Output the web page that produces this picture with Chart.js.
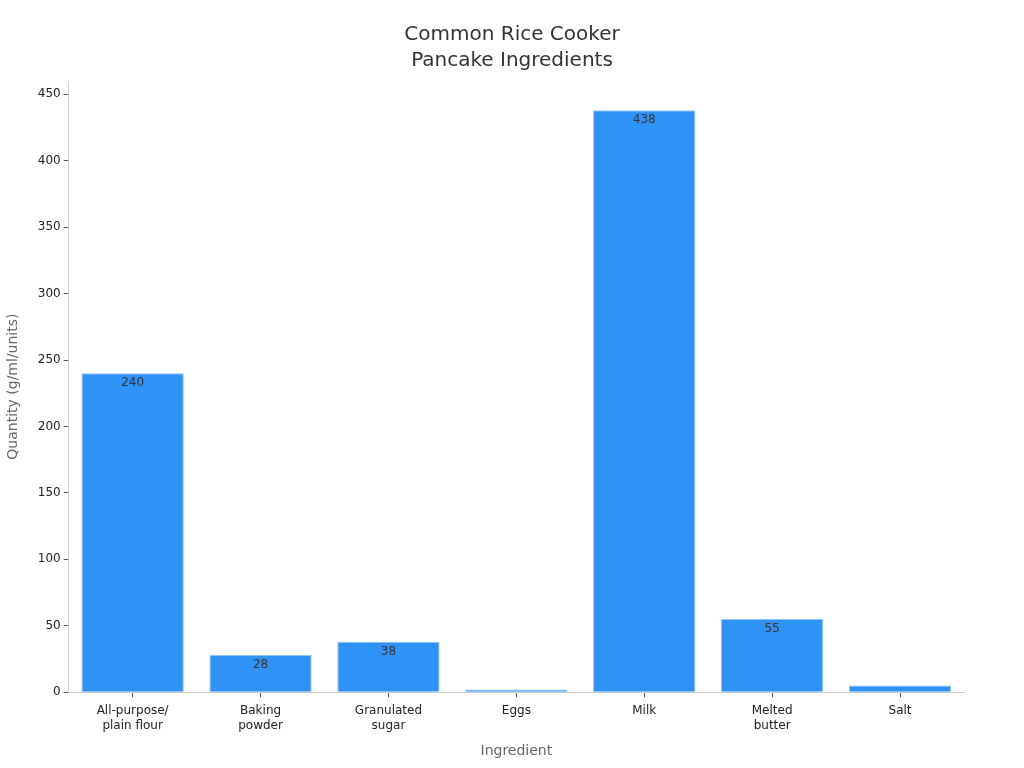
<!DOCTYPE html>
<html>
<head>
<meta charset="utf-8">
<script src="https://cdn.jsdelivr.net/npm/chart.js@4"></script>
<style>
  html, body { margin: 0; padding: 0; background: #fff; overflow: hidden; }
</style>
</head>
<body>
<canvas id="chart" width="1024" height="768"></canvas>
<script>
const ingredients = [["All-purpose/", "plain flour"], ["Baking", "powder"], ["Granulated", "sugar"], "Eggs", "Milk", ["Melted", "butter"], "Salt"];
const quantities = [240, 28, 38, 2, 438, 55, 5];
const yTicks = [0, 50, 100, 150, 200, 250, 300, 350, 400, 450];

// value labels just inside the top of each bar
const barLabels = {
  id: "barLabels",
  afterDatasetsDraw(chart) {
    const ctx = chart.ctx;
    const meta = chart.getDatasetMeta(0);
    ctx.save();
    ctx.font = "12px 'DejaVu Sans'";
    ctx.fillStyle = "#333";
    ctx.textAlign = "center";
    ctx.textBaseline = "middle";
    meta.data.forEach((bar, i) => {
      if (quantities[i] < 10) return;
      ctx.fillText(quantities[i], bar.x, bar.y + 10);
    });
    ctx.restore();
  }
};

new Chart(document.getElementById("chart"), {
  type: "bar",
  data: {
    labels: ingredients,
    datasets: [{
      data: quantities,
      backgroundColor: "#2f92f7",
      borderColor: "#8cc4fa",
      borderWidth: 1,
      categoryPercentage: 1,
      barPercentage: 0.8
    }]
  },
  plugins: [barLabels],
  options: {
    responsive: false,
    animation: false,
    devicePixelRatio: 1,
    layout: { padding: { left: 1, right: 1, top: 10, bottom: 4 } },
    plugins: {
      legend: { display: false },
      tooltip: { enabled: false },
      title: {
        display: true,
        text: ["Common Rice Cooker", "Pancake Ingredients"],
        color: "#333",
        font: { family: "DejaVu Sans", size: 20, weight: "normal", lineHeight: 1.3 },
        padding: { top: 12, bottom: 7 }
      }
    },
    scales: {
      x: {
        grid: { display: true, offset: false, drawOnChartArea: false, drawTicks: true, tickLength: 5, color: "#555" },
        border: { color: "#ccc" },
        ticks: { color: "#222", font: { family: "DejaVu Sans", size: 12, lineHeight: 1.25 }, maxRotation: 0, padding: 6 },
        title: {
          display: true,
          text: "Ingredient",
          color: "#666",
          font: { family: "DejaVu Sans", size: 14 },
          padding: { top: 4, bottom: 4 }
        }
      },
      y: {
        min: 0,
        max: 460,
        afterBuildTicks: axis => { axis.ticks = yTicks.map(v => ({ value: v })); },
        grid: { display: true, drawOnChartArea: false, drawTicks: true, tickLength: 5, color: "#555" },
        border: { color: "#ccc" },
        ticks: { color: "#222", font: { family: "DejaVu Sans", size: 12 }, padding: 3 },
        title: {
          display: true,
          text: "Quantity (g/ml/units)",
          color: "#666",
          font: { family: "DejaVu Sans", size: 14 },
          padding: { top: 4, bottom: 13 }
        }
      },
      // empty right-hand gutter so the title centres on the page
      spacer: {
        position: "right",
        grid: { display: false },
        border: { display: false },
        ticks: { display: false },
        afterFit: axis => { axis.width = 59; }
      }
    }
  }
});
</script>
</body>
</html>
